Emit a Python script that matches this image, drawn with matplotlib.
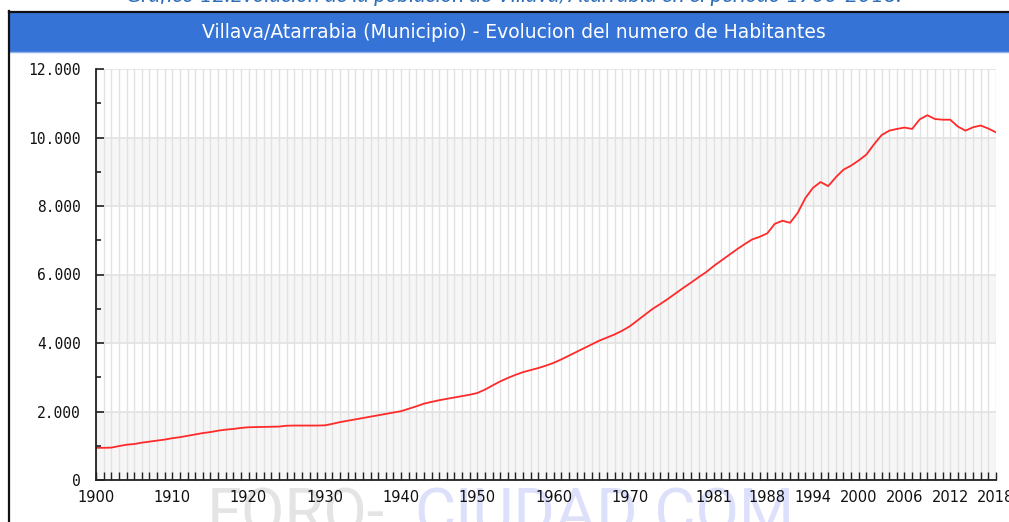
import matplotlib
matplotlib.use("Agg")
import matplotlib.pyplot as plt
from matplotlib.patches import Rectangle
from matplotlib.ticker import FixedLocator, FuncFormatter, MultipleLocator

# ---------------- data ----------------
years = list(range(1900, 2019))
population = [
    940, 940, 945, 990, 1030, 1050, 1090, 1120, 1150, 1180,      # 1900-1909
    1220, 1250, 1290, 1330, 1370, 1400, 1440, 1470, 1490, 1520,  # 1910-1919
    1540, 1545, 1550, 1555, 1560, 1585, 1590, 1590, 1590, 1590,  # 1920-1929
    1595, 1640, 1690, 1730, 1770, 1810, 1850, 1890, 1930, 1970,  # 1930-1939
    2010, 2080, 2150, 2230, 2280, 2330, 2370, 2410, 2450, 2490,  # 1940-1949
    2540, 2640, 2760, 2880, 2980, 3070, 3150, 3210, 3270, 3340,  # 1950-1959
    3420, 3520, 3630, 3740, 3850, 3960, 4070, 4160, 4250, 4360,  # 1960-1969
    4490, 4660, 4830, 5000, 5140, 5290, 5450, 5610, 5760, 5920,  # 1970-1979
    6070, 6250, 6410, 6570, 6730, 6880, 7020, 7100, 7200, 7480,  # 1980-1989
    7570, 7510, 7800, 8230, 8530, 8700, 8580, 8840, 9060, 9180,  # 1990-1999
    9330, 9500, 9800, 10070, 10200, 10250, 10290, 10250, 10530, 10650,  # 2000-2009
    10540, 10520, 10520, 10320, 10200, 10300, 10350, 10260, 10150,      # 2010-2018
]
x_tick_labels = [1900, 1910, 1920, 1930, 1940, 1950, 1960, 1970,
                 1981, 1988, 1994, 2000, 2006, 2012, 2018]
y_ticks = [0, 2000, 4000, 6000, 8000, 10000, 12000]

title = "Villava/Atarrabia (Municipio) - Evolucion del numero de Habitantes"
caption = "Gráfico 12.Evolución de la población de Villava/Atarrabia en el periodo 1900-2018."

# ---------------- figure ----------------
W, H = 1009, 522
fig = plt.figure(figsize=(W / 100, H / 100), dpi=100)
fig.patch.set_facecolor("white")

def fx(px):
    return px / W

def fy(py):
    return 1 - py / H

# caption (cut at the top)
fig.text(fx(514), fy(2.5), caption, ha="center", va="baseline", color="#2f6fb8",
         fontsize=16, style="italic", family=["Lato", "DejaVu Sans"])

# frame lines and title bar
fig.add_artist(Rectangle((fx(9), fy(52)), 1 - fx(9), fy(13) - fy(52),
                         transform=fig.transFigure, facecolor="#3673d7",
                         edgecolor="none", zorder=1))
fig.add_artist(plt.Line2D([fx(9), 1], [fy(51.5), fy(51.5)], transform=fig.transFigure,
                          color="#8fb2ea", lw=1, zorder=2))
fig.add_artist(plt.Line2D([fx(8.5), 1], [fy(11.5), fy(11.5)], transform=fig.transFigure,
                          color="#111111", lw=1.6, zorder=2))
fig.add_artist(plt.Line2D([fx(8.5), fx(8.5)], [fy(11), 0], transform=fig.transFigure,
                          color="#111111", lw=1.6, zorder=2))
fig.text(fx(514), fy(33), title, ha="center", va="center", color="white",
         fontsize=13.5, family="DejaVu Sans", zorder=3)

# watermark
fig.text(fx(207), fy(534), "FORO-", ha="left", va="baseline", color="#e4e4e4",
         fontsize=45.5, family=["Roboto", "DejaVu Sans"], zorder=-1)
fig.text(fx(414), fy(534), "CIUDAD.COM", ha="left", va="baseline", color="#dce0fb",
         fontsize=45.5, family=["Roboto", "DejaVu Sans"], zorder=-1)

# ---------------- axes ----------------
ax = fig.add_axes([fx(96), fy(480), fx(996) - fx(96), fy(69) - fy(480)])
ax.set_xlim(years[0], years[-1])
ax.set_ylim(0, 12000)

for lo in (0, 4000, 8000):
    ax.axhspan(lo, lo + 2000, color="#f6f6f6", zorder=0, lw=0)
for yr in years:
    ax.axvline(yr, color="#e2e2e2", lw=1, zorder=1)
for yv in y_ticks:
    ax.axhline(yv, color="#e2e2e2", lw=1.2, zorder=1)

ax.plot(years, population, color="#ff2a2a", lw=1.3, zorder=3)

for s in ("top", "right"):
    ax.spines[s].set_visible(False)
for s in ("left", "bottom"):
    ax.spines[s].set_color("#222222")
    ax.spines[s].set_linewidth(1.3)
    ax.spines[s].set_zorder(4)

ax.xaxis.set_major_locator(FixedLocator(x_tick_labels))
ax.xaxis.set_minor_locator(MultipleLocator(1))
ax.yaxis.set_major_locator(FixedLocator(y_ticks))
ax.yaxis.set_minor_locator(MultipleLocator(1000))
ax.yaxis.set_major_formatter(FuncFormatter(lambda v, p: f"{int(v):,}".replace(",", ".")))

ax.tick_params(axis="x", which="both", direction="in", length=5.5, width=1,
               color="#222222", pad=7, labelsize=10.5, labelcolor="#111111")
ax.tick_params(axis="y", which="major", direction="in", length=6, width=1.2,
               color="#222222", pad=11, labelsize=10.5, labelcolor="#111111")
ax.tick_params(axis="y", which="minor", direction="in", length=3.5, width=1.2,
               color="#222222")
for lab in ax.get_yticklabels():
    lab.set_family("DejaVu Sans Mono")

fig.savefig("out.png", dpi=100)
